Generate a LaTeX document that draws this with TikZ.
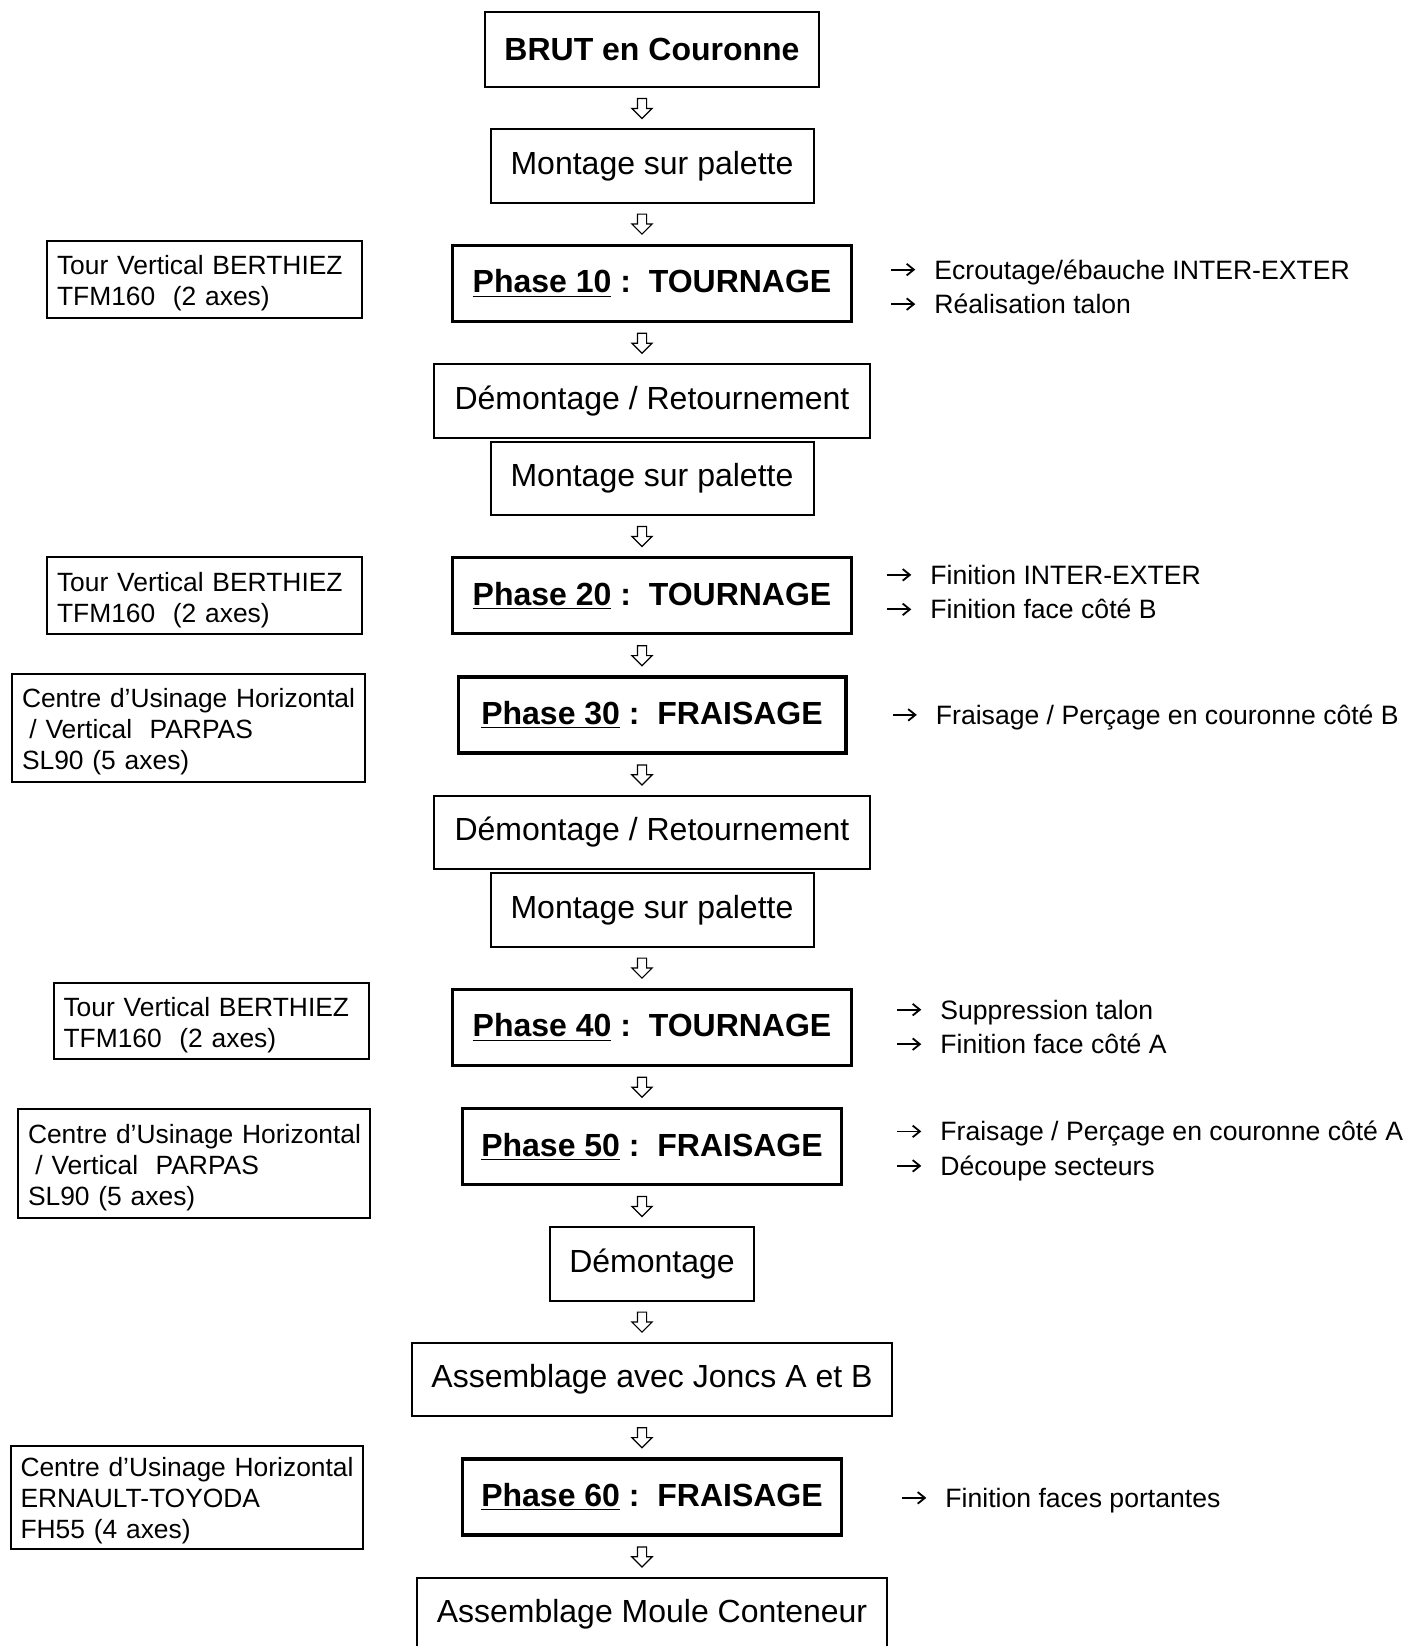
\documentclass[tikz,border=0pt]{standalone}
\usepackage{fontspec}
\setmainfont{Liberation Sans}
\usetikzlibrary{positioning,shapes.arrows,arrows.meta}

\newcommand{\arr}{\makebox[22pt][l]{\tikz[baseline={(0pt,-4.7pt)}]\draw[line width=0.9pt, -{Straight Barb[length=3.6pt, width=5.8pt]}] (0,0) -- (12pt,0);}}

\begin{document}
\begin{tikzpicture}[
    stage/.style={draw, line width=1pt, align=center, minimum height=36.8pt, inner sep=0pt, font=\fontsize{16}{19}\selectfont},
    headbox/.style={stage, minimum height=37.85pt, font=\bfseries\fontsize{16}{19}\selectfont},
    phase/.style={draw, line width=1.6pt, align=center, minimum height=38pt, inner sep=0pt, font=\bfseries\fontsize{16}{19}\selectfont},
    machine/.style={draw, line width=1pt, align=left, inner xsep=5pt, inner ysep=0pt, font=\fontsize{13.2}{15.5}\selectfont, execute at begin node={\hyphenpenalty=10000\rule{0pt}{13.5pt}}},
    note/.style={align=left, inner sep=0pt, font=\fontsize{13.3}{17.25}\selectfont},
    harrow/.style={draw, single arrow, single arrow head extend=2.75pt, single arrow head indent=0pt, shape border rotate=270, minimum height=10pt, minimum width=9.5pt, inner sep=2pt, line width=0.6pt, xshift=-5pt, yshift=1pt}
]
\useasboundingbox (0,0) rectangle (708pt,-823pt);
\clip (0,0) rectangle (708pt,-823pt);

% main column
\node[headbox, minimum width=167pt, anchor=north] (brut) at (326pt,-5.25pt) {BRUT en Couronne};
\node[stage, minimum width=161.5pt, below=20pt of brut] (mont1) {Montage sur palette};
\node[phase, minimum width=199.4pt, below=20pt of mont1] (p10) {\underline{Phase 10} :\ \ TOURNAGE};
\node[stage, minimum width=217.75pt, below=20pt of p10] (dem1) {Démontage / Retournement};
\node[stage, minimum width=161.5pt, below=1pt of dem1] (mont2) {Montage sur palette};
\node[phase, minimum width=199.4pt, below=20pt of mont2] (p20) {\underline{Phase 20} :\ \ TOURNAGE};
\node[phase, minimum width=193.9pt, below=20pt of p20] (p30) {\underline{Phase 30} :\ \ FRAISAGE};
\node[stage, minimum width=217.75pt, below=20pt of p30] (dem2) {Démontage / Retournement};
\node[stage, minimum width=161.5pt, below=1pt of dem2] (mont3) {Montage sur palette};
\node[phase, minimum width=199.4pt, below=20pt of mont3] (p40) {\underline{Phase 40} :\ \ TOURNAGE};
\node[phase, minimum width=189.4pt, below=20pt of p40] (p50) {\underline{Phase 50} :\ \ FRAISAGE};
\node[stage, minimum width=102pt, below=20pt of p50] (dem3) {Démontage};
\node[stage, minimum width=239.75pt, below=20pt of dem3] (joncs) {Assemblage avec Joncs A et B};
\node[phase, minimum width=189.4pt, below=20pt of joncs] (p60) {\underline{Phase 60} :\ \ FRAISAGE};
\node[stage, minimum width=235pt, below=20pt of p60] (moule) {Assemblage Moule Conteneur};

% hollow arrows
\path (brut) -- node[harrow]{} (mont1);
\path (mont1) -- node[harrow]{} (p10);
\path (p10) -- node[harrow]{} (dem1);
\path (mont2) -- node[harrow]{} (p20);
\path (p20) -- node[harrow]{} (p30);
\path (p30) -- node[harrow]{} (dem2);
\path (mont3) -- node[harrow]{} (p40);
\path (p40) -- node[harrow]{} (p50);
\path (p50) -- node[harrow]{} (dem3);
\path (dem3) -- node[harrow]{} (joncs);
\path (joncs) -- node[harrow]{} (p60);
\path (p60) -- node[harrow]{} (moule);

% machines
\node[machine, text width=147.5pt, minimum height=38.5pt, left=44pt of p10, yshift=1.85pt] (m10) {Tour Vertical BERTHIEZ\\TFM160\ \ (2 axes)};
\node[machine, text width=147.5pt, minimum height=38.5pt, left=44pt of p20] (m20) {Tour Vertical BERTHIEZ\\TFM160\ \ (2 axes)};
\node[machine, text width=166.25pt, minimum height=54pt, left=45.5pt of p30, yshift=-6.25pt] (m30) {\mbox{Centre d’Usinage Horizontal}\\\hspace{0.28em}/ Vertical\ \ PARPAS\\SL90 (5 axes)};
\node[machine, text width=147.5pt, minimum height=38pt, left=40.75pt of p40, yshift=3.25pt] (m40) {Tour Vertical BERTHIEZ\\TFM160\ \ (2 axes)};
\node[machine, text width=165.75pt, minimum height=54.5pt, left=45.25pt of p50, yshift=-8.5pt] (m50) {\mbox{Centre d’Usinage Horizontal}\\\hspace{0.28em}/ Vertical\ \ PARPAS\\SL90 (5 axes)};
\node[machine, text width=166.25pt, minimum height=51.5pt, left=48.5pt of p60] (m60) {\mbox{Centre d’Usinage Horizontal}\\ERNAULT-TOYODA\\FH55 (4 axes)};

% operations
\node[note, right=18.5pt of p10, yshift=-1.6pt] (o10) {\arr Ecroutage/ébauche INTER-EXTER\\\arr Réalisation talon};
\node[note, right=16.5pt of p20, yshift=1.9pt] (o20) {\arr Finition INTER-EXTER\\\arr Finition face côté B};
\node[note, right=22pt of p30, yshift=-1.15pt] (o30) {\arr Fraisage / Perçage en couronne côté B};
\node[note, right=21.5pt of p40, yshift=0.3pt] (o40) {\arr Suppression talon\\\arr Finition face côté A};
\node[note, right=26.5pt of p50, yshift=-2.2pt] (o50) {\arr Fraisage / Perçage en couronne côté A\\\arr Découpe secteurs};
\node[note, right=29pt of p60, yshift=-1.7pt] (o60) {\arr Finition faces portantes};
\end{tikzpicture}
\end{document}
